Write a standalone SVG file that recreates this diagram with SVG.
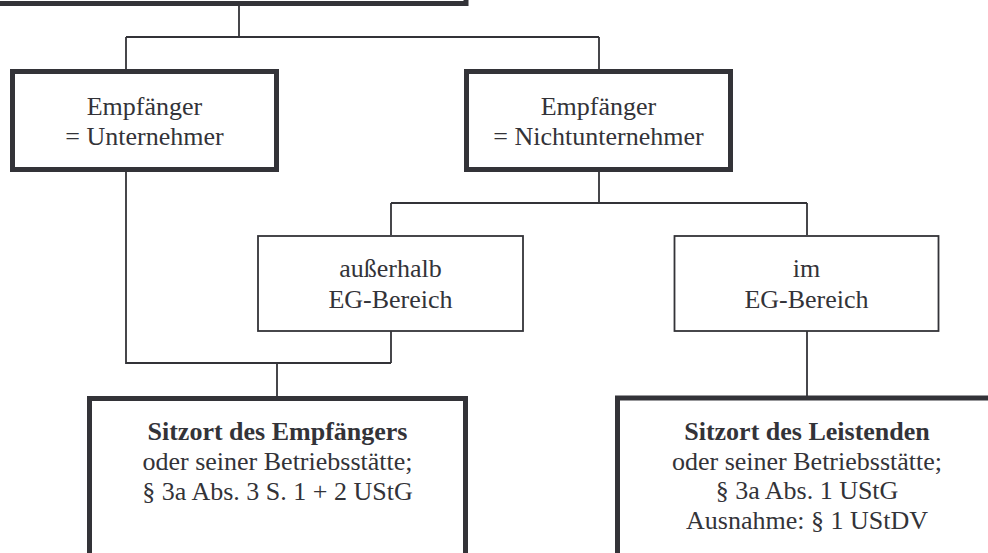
<svg xmlns="http://www.w3.org/2000/svg" width="988" height="553" viewBox="0 0 988 553">
<style>
  .thick { fill: #ffffff; stroke: #333338; stroke-width: 5; }
  .thin { fill: #ffffff; stroke: #333338; stroke-width: 1.8; }
  .conn { fill: none; stroke: #333338; stroke-width: 1.8; }
  text { font-family: "Liberation Serif", "Times New Roman", serif; font-size: 26px; fill: #333338; text-anchor: middle; }
  .b { font-weight: bold; }
</style>
<rect width="988" height="553" fill="#ffffff"/>
<g id="connectors">
  <path class="conn" d="M239,6 V37 M126,37 H599 M126,37 V69 M599,37 V69"/>
  <path class="conn" d="M126,172 V363 H391 M391,331 V363 M277,363 V396"/>
  <path class="conn" d="M599,172 V203 M391,203 H807 M391,203 V235 M807,203 V235"/>
  <path class="conn" d="M807,331 V396"/>
</g>
<g id="top">
  <rect class="thick" x="-20" y="-60" width="486" height="63.5"/>
</g>
<g id="unternehmer">
  <rect class="thick" x="12.5" y="71.5" width="264" height="98"/>
  <text x="144.5" y="115">Empfänger</text>
  <text x="144.5" y="145">= Unternehmer</text>
</g>
<g id="nichtunternehmer">
  <rect class="thick" x="466.5" y="71.5" width="264" height="98"/>
  <text x="598.5" y="115">Empfänger</text>
  <text x="598.5" y="145">= Nichtunternehmer</text>
</g>
<g id="ausserhalb">
  <rect class="thin" x="258" y="236" width="265" height="95"/>
  <text x="390.5" y="277">außerhalb</text>
  <text x="390.5" y="308">EG-Bereich</text>
</g>
<g id="im">
  <rect class="thin" x="674.5" y="236" width="264" height="95"/>
  <text x="806.5" y="277">im</text>
  <text x="806.5" y="308">EG-Bereich</text>
</g>
<g id="sitz-empfaenger">
  <rect class="thick" x="89.5" y="398.5" width="376" height="200"/>
  <text class="b" x="277.5" y="440">Sitzort des Empfängers</text>
  <text x="277.5" y="470">oder seiner Betriebsstätte;</text>
  <text x="277.5" y="500">§ 3a Abs. 3 S. 1 + 2 UStG</text>
</g>
<g id="sitz-leistender">
  <rect class="thick" x="617.5" y="398" width="380" height="200"/>
  <text class="b" x="807" y="440">Sitzort des Leistenden</text>
  <text x="807" y="470">oder seiner Betriebsstätte;</text>
  <text x="807" y="499">§ 3a Abs. 1 UStG</text>
  <text x="807" y="529">Ausnahme: § 1 UStDV</text>
</g>
</svg>
